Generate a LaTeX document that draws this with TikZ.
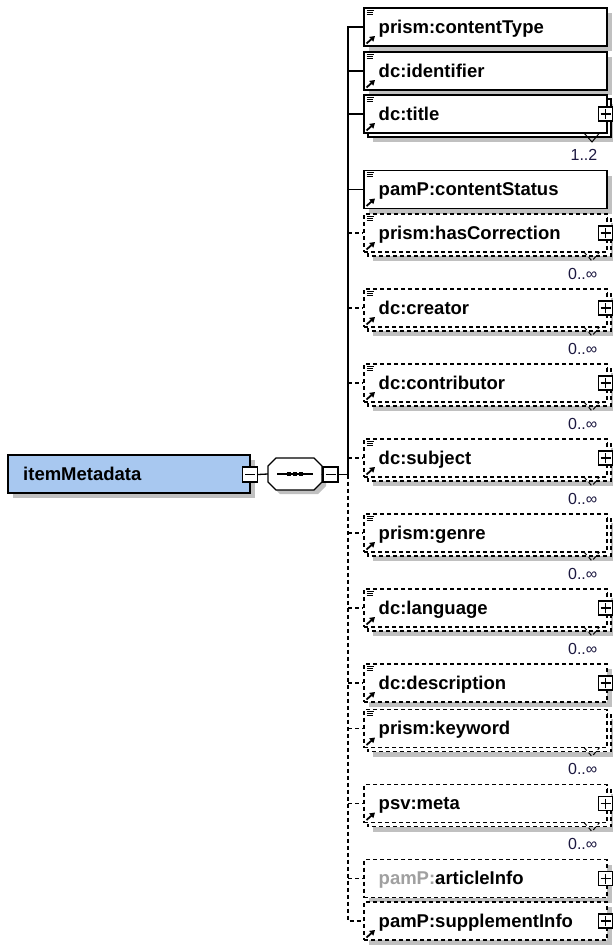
\documentclass[tikz,border=0pt]{standalone}
\usepackage{fontspec}
\setmainfont{Liberation Sans}
\usetikzlibrary{arrows.meta,calc}
\definecolor{shc}{RGB}{192,192,192}
\definecolor{imblue}{RGB}{168,200,240}
\definecolor{multc}{RGB}{28,24,64}
\definecolor{greyt}{RGB}{160,160,160}
\tikzset{
  bx/.style={line width=1.3pt},
  dbox/.style={dash pattern=on 4pt off 3pt},
  sbox/.style={solid},
  ebox/.style={draw,fill=white,minimum width=243pt,minimum height=38pt,inner sep=0pt,line width=1.4pt},
  lbl/.style={anchor=base west,inner sep=0pt,font=\fontsize{18.5}{20}\selectfont\bfseries},
  mult/.style={anchor=base east,inner sep=0pt,text=multc,font=\fontsize{16}{18}\selectfont},
  pbox/.style={draw,fill=white,minimum size=14pt,inner sep=0pt,line width=1.1pt},
  sgn/.style={line width=1.1pt},
  ico/.style={line width=1pt},
  arr/.style={line width=1.8pt,-{Triangle[length=5pt,width=6pt]}},
  conn/.style={line width=1.3pt},
  dconn/.style={line width=1.3pt,dash pattern=on 4pt off 3pt},
}
\newcommand\elem[8]{%
  \ifnum#5=1
    \fill[shc] (373,{#2-10}) rectangle (613,{#2+28});
    \draw[bx,#4,fill=white] (368,{#2-15}) rectangle (611,{#2+23});
  \else
    \fill[shc] (369,{#2-14}) rectangle (612,{#2+24});
  \fi
  \node[ebox,#4] (#1) at (485.5,#2) {};
  \node[lbl] (#1-t) at (378.5,{#2+6}) {#3};
  \ifnum#6=1
    \node[pbox] (#1-p) at (605.5,#2) {};
    \draw[sgn] (600.5,#2) -- (610.5,#2) (605.5,{#2-5}) -- (605.5,{#2+5});
  \fi
  \ifnum#7>1
    \draw[ico] (366.5,{#2-17}) -- (373.5,{#2-17}) (366.5,{#2-14.8}) -- (373,{#2-14.8}) (366.5,{#2-12.6}) -- (373,{#2-12.6});
  \fi
  \ifnum#7>0
    \draw[arr] (366.5,{#2+16.5}) -- (375,{#2+9});
  \fi
  \ifnum#5=1
    \draw[line width=1pt,#4] (584,{#2+19}) -- (592,{#2+28}) -- (599.5,{#2+19});
    \node[mult] (#1-m) at (597.5,{#2+46}) {#8};
  \fi
}
\begin{document}
\begin{tikzpicture}[x=1pt,y=-1pt]
\useasboundingbox (0,0) rectangle (615,945);
% root element
\fill[shc] (13,460) rectangle (255,498);
\node[draw,fill=imblue,minimum width=242pt,minimum height=38pt,inner sep=0pt,line width=1.4pt] (im) at (129,474) {};
\node[lbl] (im-t) at (23,480) {itemMetadata};
\node[pbox,minimum size=15pt] (imm) at (250,474.5) {};
\draw[sgn] (245,474.5) -- (255,474.5);
% sequence compositor
\node[minimum width=54pt,minimum height=32pt,inner sep=0pt] (seq) at (295,474) {};
\fill[shc] (280,462) -- (318,462) -- (326,470) -- (326,486) -- (318,494) -- (280,494) -- (272,486) -- (272,470) -- cycle;
\draw[line width=1.3pt,fill=white] (276,458) -- (314,458) -- (322,466) -- (322,482) -- (314,490) -- (276,490) -- (268,482) -- (268,466) -- cycle;
\draw[line width=1.3pt] (277,474) -- (313,474);
\foreach \dx in {289,295,301} \fill (\dx-2,472) rectangle (\dx+2,476);
\node[pbox,minimum size=15pt] (seqm) at (330.5,474.5) {};
\draw[sgn] (325.5,474.5) -- (335.5,474.5);
\coordinate (J) at (348,474.5);
% children
\elem{ct}{27}{prism:contentType}{sbox}{0}{0}{2}{}
\elem{id}{71}{dc:identifier}{sbox}{0}{0}{2}{}
\elem{ti}{114}{dc:title}{sbox}{1}{1}{2}{1..2}
\elem{cs}{189.5}{pamP:contentStatus}{sbox}{0}{0}{2}{}
\elem{hc}{233}{prism:hasCorrection}{dbox}{1}{1}{2}{0..∞}
\elem{cr}{308}{dc:creator}{dbox}{1}{1}{2}{0..∞}
\elem{co}{383}{dc:contributor}{dbox}{1}{1}{2}{0..∞}
\elem{su}{458}{dc:subject}{dbox}{1}{1}{2}{0..∞}
\elem{ge}{533}{prism:genre}{dbox}{1}{0}{2}{0..∞}
\elem{la}{608}{dc:language}{dbox}{1}{1}{2}{0..∞}
\elem{de}{683}{dc:description}{dbox}{0}{1}{2}{}
\elem{kw}{728.5}{prism:keyword}{dbox}{1}{0}{2}{0..∞}
\elem{me}{803.5}{psv:meta}{dbox}{1}{1}{1}{0..∞}
\elem{ai}{878.5}{\textcolor{greyt}{pamP:}articleInfo}{dbox}{0}{1}{0}{}
\elem{si}{921}{pamP:supplementInfo}{dbox}{0}{1}{1}{}
% connectors
\draw[conn] (imm.east) -- (seq.west);
\draw[conn] (seq.east) -- (seqm.west);
\draw[conn] (seqm.east) -- (J);
\draw[conn] (J) |- (ct.west);
\foreach \n in {id,ti,cs} \draw[conn] (\n.west -| J) -- (\n.west);
\draw[dconn] (J) |- (si.west);
\foreach \n in {hc,cr,co,su,ge,la,de,kw,me,ai} \draw[dconn] (\n.west -| J) -- (\n.west);
\end{tikzpicture}
\end{document}
